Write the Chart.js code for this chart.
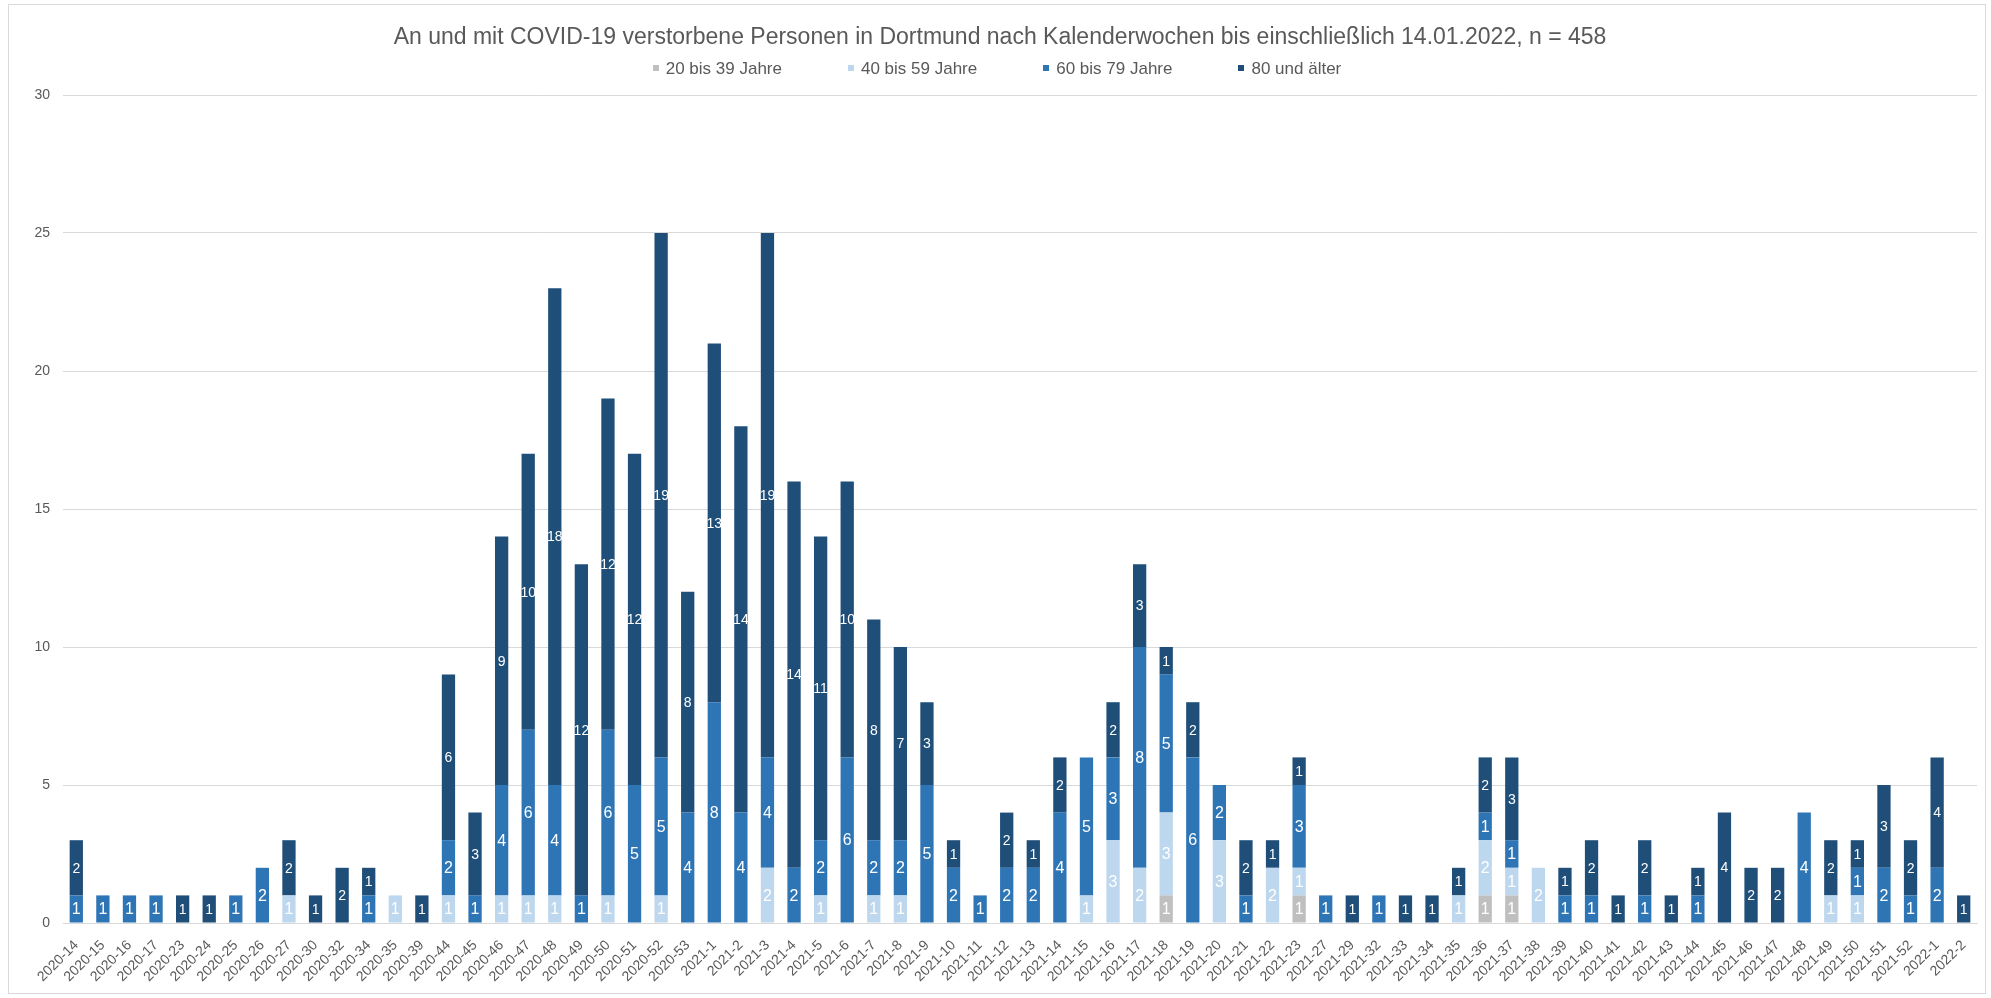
<!DOCTYPE html>
<html lang="de">
<head>
<meta charset="utf-8">
<title>COVID-19 Verstorbene Dortmund</title>
<script src="https://cdn.jsdelivr.net/npm/chart.js@4.4.1/dist/chart.umd.min.js"></script>
<style>
    html, body { margin: 0; padding: 0; background: #ffffff; }
    #frame { position: absolute; left: 8px; top: 4px; width: 1976px; height: 988px; border: 1px solid #d9d9d9; }
    canvas { display: block; }
</style>
</head>
<body>
<div id="frame"><canvas id="deathsChart" width="1976" height="988"></canvas></div>
<script>
const weeks = [
    '2020-14', '2020-15', '2020-16', '2020-17', '2020-23', '2020-24', '2020-25', '2020-26', '2020-27', '2020-30', '2020-32', '2020-34',
    '2020-35', '2020-39', '2020-44', '2020-45', '2020-46', '2020-47', '2020-48', '2020-49', '2020-50', '2020-51', '2020-52', '2020-53',
    '2021-1', '2021-2', '2021-3', '2021-4', '2021-5', '2021-6', '2021-7', '2021-8', '2021-9', '2021-10', '2021-11', '2021-12',
    '2021-13', '2021-14', '2021-15', '2021-16', '2021-17', '2021-18', '2021-19', '2021-20', '2021-21', '2021-22', '2021-23', '2021-27',
    '2021-29', '2021-32', '2021-33', '2021-34', '2021-35', '2021-36', '2021-37', '2021-38', '2021-39', '2021-40', '2021-41', '2021-42',
    '2021-43', '2021-44', '2021-45', '2021-46', '2021-47', '2021-48', '2021-49', '2021-50', '2021-51', '2021-52', '2022-1', '2022-2'
];

const age20to39 = [
    0, 0, 0, 0, 0, 0, 0, 0, 0, 0, 0, 0,
    0, 0, 0, 0, 0, 0, 0, 0, 0, 0, 0, 0,
    0, 0, 0, 0, 0, 0, 0, 0, 0, 0, 0, 0,
    0, 0, 0, 0, 0, 1, 0, 0, 0, 0, 1, 0,
    0, 0, 0, 0, 0, 1, 1, 0, 0, 0, 0, 0,
    0, 0, 0, 0, 0, 0, 0, 0, 0, 0, 0, 0
];
const age40to59 = [
    0, 0, 0, 0, 0, 0, 0, 0, 1, 0, 0, 0,
    1, 0, 1, 0, 1, 1, 1, 0, 1, 0, 1, 0,
    0, 0, 2, 0, 1, 0, 1, 1, 0, 0, 0, 0,
    0, 0, 1, 3, 2, 3, 0, 3, 0, 2, 1, 0,
    0, 0, 0, 0, 1, 2, 1, 2, 0, 0, 0, 0,
    0, 0, 0, 0, 0, 0, 1, 1, 0, 0, 0, 0
];
const age60to79 = [
    1, 1, 1, 1, 0, 0, 1, 2, 0, 0, 0, 1,
    0, 0, 2, 1, 4, 6, 4, 1, 6, 5, 5, 4,
    8, 4, 4, 2, 2, 6, 2, 2, 5, 2, 1, 2,
    2, 4, 5, 3, 8, 5, 6, 2, 1, 0, 3, 1,
    0, 1, 0, 0, 0, 1, 1, 0, 1, 1, 0, 1,
    0, 1, 0, 0, 0, 4, 0, 1, 2, 1, 2, 0
];
const age80plus = [
    2, 0, 0, 0, 1, 1, 0, 0, 2, 1, 2, 1,
    0, 1, 6, 3, 9, 10, 18, 12, 12, 12, 19, 8,
    13, 14, 19, 14, 11, 10, 8, 7, 3, 1, 0, 2,
    1, 2, 0, 2, 3, 1, 2, 0, 2, 1, 1, 0,
    1, 0, 1, 1, 1, 2, 3, 0, 1, 2, 1, 2,
    1, 1, 4, 2, 2, 0, 2, 1, 3, 2, 4, 1
];

const seriesNames = ['20 bis 39 Jahre', '40 bis 59 Jahre', '60 bis 79 Jahre', '80 und älter'];
const seriesColors = ['#bfbfbf', '#bdd7ee', '#2e75b6', '#1f4e79'];
const labelFonts = ['16px', '16px', '16px', '14px'];

const fontFamily = '"Liberation Sans", Arial, sans-serif';
const textGray = '#595959';

// white value labels in the middle of every segment
const segmentLabels = {
    id: 'segmentLabels',
    afterDatasetsDraw(chart) {
        const ctx = chart.ctx;
        ctx.save();
        ctx.textAlign = 'center';
        ctx.textBaseline = 'middle';
        ctx.fillStyle = '#ffffff';
        chart.data.datasets.forEach((ds, i) => {
            const meta = chart.getDatasetMeta(i);
            ctx.font = labelFonts[i] + ' ' + fontFamily;
            meta.data.forEach((bar, j) => {
                const v = ds.data[j];
                if (!v) return;
                ctx.fillText(String(v), bar.x, (bar.y + bar.base) / 2 + 1);
            });
        });
        ctx.restore();
    }
};

// legend drawn as a single centered row with wide gaps
const ageLegend = {
    id: 'ageLegend',
    afterDraw(chart) {
        const ctx = chart.ctx;
        ctx.save();
        ctx.font = '17px ' + fontFamily;
        ctx.textBaseline = 'middle';
        const box = 6, gap = 7, spacing = 66;
        const widths = seriesNames.map(n => ctx.measureText(n).width);
        const total = widths.reduce((s, w) => s + box + gap + w, 0) + spacing * (seriesNames.length - 1);
        let x = (chart.width - total) / 2;
        const y = 63;
        seriesNames.forEach((name, i) => {
            ctx.fillStyle = seriesColors[i];
            ctx.fillRect(Math.round(x), y - box / 2, box, box);
            ctx.fillStyle = textGray;
            ctx.fillText(name, x + box + gap, y + 1);
            x += box + gap + widths[i] + spacing;
        });
        ctx.restore();
    }
};

const seriesData = [age20to39, age40to59, age60to79, age80plus];

new Chart(document.getElementById('deathsChart'), {
    type: 'bar',
    data: {
        labels: weeks,
        datasets: seriesNames.map((name, i) => ({
            label: name,
            data: seriesData[i],
            backgroundColor: seriesColors[i],
            borderWidth: 0,
            barPercentage: 0.5,
            categoryPercentage: 1.0
        }))
    },
    options: {
        responsive: false,
        animation: false,
        devicePixelRatio: 1,
        layout: { padding: { left: 14, right: 8, top: 0, bottom: 0 } },
        plugins: {
            legend: { display: false },
            tooltip: { enabled: false },
            title: {
                display: true,
                text: 'An und mit COVID-19 verstorbene Personen in Dortmund nach Kalenderwochen bis einschließlich 14.01.2022, n = 458',
                color: textGray,
                font: { family: fontFamily, size: 23, weight: 'normal', lineHeight: 1.2 },
                padding: { top: 18.4, bottom: 44 }
            }
        },
        scales: {
            x: {
                stacked: true,
                grid: { display: false },
                border: { display: true, color: '#d9d9d9' },
                ticks: {
                    color: textGray,
                    font: { family: fontFamily, size: 14 },
                    autoSkip: false,
                    maxRotation: 45,
                    minRotation: 45,
                    padding: 6
                },
                afterFit: s => { s.height = 70; }
            },
            y: {
                stacked: true,
                min: 0,
                max: 30,
                grid: { color: '#d9d9d9', drawTicks: false },
                border: { display: false },
                ticks: {
                    stepSize: 5,
                    color: textGray,
                    font: { family: fontFamily, size: 14 },
                    padding: 13
                },
                afterFit: s => { s.width = 40; }
            }
        }
    },
    plugins: [segmentLabels, ageLegend]
});
</script>
</body>
</html>
